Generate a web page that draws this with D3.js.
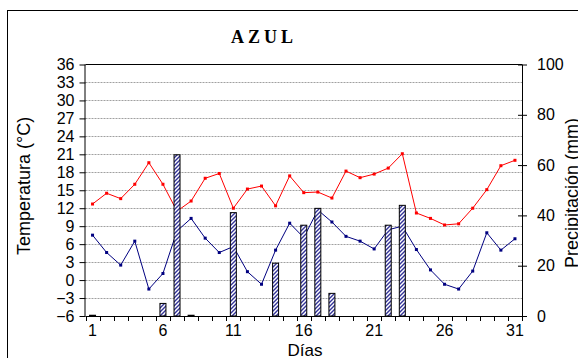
<!DOCTYPE html>
<html>
<head>
<meta charset="utf-8">
<script src="https://cdn.jsdelivr.net/npm/d3@7"></script>
<style>
  html, body { margin: 0; padding: 0; background: #fff; }
  svg { display: block; font-family: "Liberation Sans", Arial, sans-serif; }
</style>
</head>
<body>
<div id="chart"></div>
<script>
// daily values, Azul
const days = ["1","2","3","4","5","6","7","8","9","10","11","12","13","14","15","16",
  "17","18","19","20","21","22","23","24","25","26","27","28","29","30","31"];
const dayLabels = ["1", "6", "11", "16", "21", "26", "31"];
const tempMax = [12.7, 14.5, 13.6, 16.0, 19.6, 16.0, 11.5, 13.2, 17.0, 17.8, 12.0, 15.2, 15.7, 12.4, 17.4, 14.6,
  14.7, 13.7, 18.2, 17.1, 17.7, 18.7, 21.1, 11.2, 10.3, 9.2, 9.4, 12.0, 15.1, 19.1, 20.0];
const tempMin = [7.5, 4.6, 2.5, 6.5, -1.5, 1.1, 8.2, 10.3, 7.0, 4.6, 5.6, 1.4, -0.7, 5.0, 9.5, 7.1,
  11.7, 9.7, 7.3, 6.5, 5.2, 8.4, 9.0, 5.1, 1.7, -0.7, -1.5, 1.5, 7.9, 5.0, 6.9];
const precip = [0.3, 0, 0, 0, 0, 5.0, 64.1, 0.3, 0, 0, 41.1, 0, 0, 21.0, 0, 36.1,
  42.8, 9.0, 0, 0, 0, 36.1, 44.0, 0, 0, 0, 0, 0, 0, 0, 0];
const tempTicks = [-6, -3, 0, 3, 6, 9, 12, 15, 18, 21, 24, 27, 30, 33, 36];
const precipTicks = [0, 20, 40, 60, 80, 100];

const W = 578, H = 358;
const pLeft = 85.5, pRight = 522, pTop = 64.5, pBottom = 316;

const svg = d3.select("#chart").append("svg")
  .attr("width", W).attr("height", H);

// hatch for the columns
const pat = svg.append("defs").append("pattern")
  .attr("id", "hatch")
  .attr("patternUnits", "userSpaceOnUse")
  .attr("width", 4).attr("height", 4);
pat.append("rect").attr("width", 4).attr("height", 4).attr("fill", "#fff");
pat.append("path")
  .attr("d", "M-1,1 L1,-1 M0,4 L4,0 M3,5 L5,3")
  .attr("stroke", "#333399").attr("stroke-width", 1.4);

// outer frame
svg.append("rect")
  .attr("x", 7.5).attr("y", 10.5)
  .attr("width", 700).attr("height", 500)
  .attr("fill", "none").attr("stroke", "#000");

const x = d3.scaleBand().domain(days).range([pLeft, pRight]).padding(0);
const y = d3.scaleLinear().domain([-6, 36]).range([pBottom, pTop]);
const y2 = d3.scaleLinear().domain([0, 100]).range([pBottom, pTop]);
const cx = i => x(days[i]) + x.bandwidth() / 2;

// grid
svg.append("g").selectAll("line")
  .data(tempTicks.filter(t => t > -6 && t < 36))
  .enter().append("line")
  .attr("x1", pLeft).attr("x2", pRight)
  .attr("y1", d => Math.round(y(d)) + 0.5).attr("y2", d => Math.round(y(d)) + 0.5)
  .attr("stroke", "#a0a0a0")
  .attr("stroke-dasharray", "2,1");

// top border of plot
svg.append("line")
  .attr("x1", pLeft).attr("x2", pRight)
  .attr("y1", pTop).attr("y2", pTop)
  .attr("stroke", "#000");

// lines
const line = d3.line()
  .x((d, i) => cx(i))
  .y(d => y(d));

const series = [
  { values: tempMax, color: "#ff0000" },
  { values: tempMin, color: "#000080" }
];
series.forEach(s => {
  svg.append("path")
    .datum(s.values)
    .attr("fill", "none")
    .attr("stroke", s.color)
    .attr("stroke-width", 1)
    .attr("d", line);
  svg.append("g").selectAll("rect")
    .data(s.values)
    .enter().append("rect")
    .attr("x", (d, i) => cx(i) - 1.5)
    .attr("y", d => y(d) - 1.5)
    .attr("width", 3).attr("height", 3)
    .attr("fill", s.color);
});

// precipitation columns
const bw = 6;
const bars = precip.map((v, i) => ({ day: days[i], v: v })).filter(d => d.v > 0);
svg.append("g").selectAll("rect")
  .data(bars)
  .enter().append("rect")
  .attr("x", d => x(d.day) + x.bandwidth() / 2 - bw / 2)
  .attr("y", d => y2(d.v))
  .attr("width", bw)
  .attr("height", d => pBottom - y2(d.v))
  .attr("fill", "url(#hatch)")
  .attr("stroke", "#000")
  .attr("stroke-width", 1);

// left axis
const yAxis = svg.append("g")
  .attr("transform", `translate(${pLeft},0)`)
  .call(d3.axisLeft(y).tickValues(tempTicks).tickSize(6).tickPadding(5).tickFormat(d3.format("d")));
yAxis.selectAll("text").attr("font-size", 16).attr("fill", "#000")
  .attr("font-family", "Liberation Sans, Arial, sans-serif");
yAxis.select(".domain").attr("d", `M-0.5,${pTop}V${pBottom}`);

// right axis
const y2Axis = svg.append("g")
  .attr("transform", `translate(${pRight},0)`)
  .call(d3.axisRight(y2).tickValues(precipTicks).tickSize(5).tickPadding(10));
y2Axis.selectAll(".tick line").attr("x1", -4);
y2Axis.selectAll("text").attr("font-size", 16).attr("fill", "#000")
  .attr("font-family", "Liberation Sans, Arial, sans-serif");
y2Axis.select(".domain").attr("d", `M0.5,${pTop}V${pBottom}`);

// bottom axis
const xAxis = svg.append("g")
  .attr("transform", `translate(0,${pBottom})`)
  .call(d3.axisBottom(x).tickSize(0).tickPadding(9)
    .tickFormat(d => dayLabels.includes(d) ? d : ""));
xAxis.selectAll("text").attr("font-size", 16).attr("fill", "#000")
  .attr("font-family", "Liberation Sans, Arial, sans-serif");
xAxis.select(".domain").attr("d", `M${pLeft},0.5H${pRight}`).attr("stroke-width", 1.2);
xAxis.selectAll(".bound")
  .data(d3.range(days.length + 1))
  .enter().append("line")
  .attr("class", "bound")
  .attr("x1", i => Math.round(pLeft + i * x.step()) + 0.5)
  .attr("x2", i => Math.round(pLeft + i * x.step()) + 0.5)
  .attr("y1", 0).attr("y2", 5)
  .attr("stroke", "#000");

// titles
svg.append("text")
  .attr("x", 264).attr("y", 43)
  .attr("text-anchor", "middle")
  .attr("font-family", "Liberation Serif, Times New Roman, serif")
  .attr("font-weight", "bold")
  .attr("font-size", 18)
  .attr("letter-spacing", 4)
  .text("AZUL");

svg.append("text")
  .attr("transform", "translate(30,186) rotate(-90)")
  .attr("text-anchor", "middle")
  .attr("font-size", 18)
  .text("Temperatura (°C)");

svg.append("text")
  .attr("transform", "translate(578,193) rotate(-90)")
  .attr("text-anchor", "middle")
  .attr("font-size", 18)
  .text("Precipitación (mm)");

svg.append("text")
  .attr("x", 305).attr("y", 356)
  .attr("text-anchor", "middle")
  .attr("font-size", 17)
  .text("Días");
</script>
</body>
</html>
